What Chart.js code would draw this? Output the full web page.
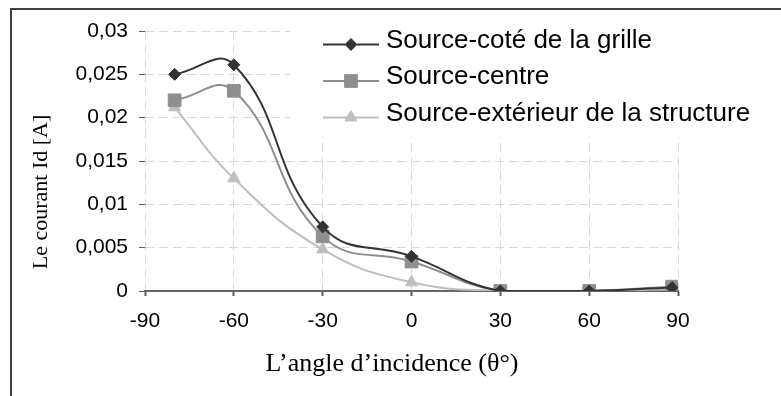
<!DOCTYPE html>
<html>
<head>
<meta charset="utf-8">
<script src="https://cdn.jsdelivr.net/npm/chart.js@4/dist/chart.umd.min.js"></script>
<style>
  html, body { margin: 0; padding: 0; background: #ffffff; }
  #c { display: block; }
</style>
</head>
<body>
<canvas id="c" width="781" height="396"></canvas>
<script>
// ---- data ----
const angles = [-80, -60, -30, 0, 30, 60, 88];
const seriesNames = ['Source-coté de la grille', 'Source-centre', 'Source-extérieur de la structure'];
const coteGrille = [0.0250, 0.0261, 0.0074, 0.0040, 0.0000, 0.0000, 0.0004];
const centre     = [0.0220, 0.0231, 0.0063, 0.0034, 0.0000, 0.0000, 0.0005];
const exterieur  = [0.0212, 0.0130, 0.0048, 0.0010, 0.0000, 0.0000, 0.0002];
const xTickValues = [-90, -60, -30, 0, 30, 60, 90];
const xTickLabels = ['-90', '-60', '-30', '0', '30', '60', '90'];
const yTickValues = [0, 0.005, 0.01, 0.015, 0.02, 0.025, 0.03];
const yTickLabels = ['0', '0,005', '0,01', '0,015', '0,02', '0,025', '0,03'];
const xTitle = 'L\u2019angle d\u2019incidence (\u03B8°)';
const yTitle = 'Le courant Id [A]';

// ---- styles ----
const colors = ['#333333', '#8f8f8f', '#bfbfbf'];
const pointStyles = ['rectRot', 'rect', 'triangle'];
const pointRadii = [6, 9, 7];
const seriesValues = [coteGrille, centre, exterieur];

function toPoints(vals) { return angles.map((a, i) => ({ x: a, y: vals[i] })); }

function makeSwatch(color, style, radius) {
  const c = document.createElement('canvas');
  c.width = 56; c.height = 28;
  const g = c.getContext('2d');
  const cy = 18;
  g.strokeStyle = color; g.lineWidth = 2;
  g.beginPath(); g.moveTo(0, cy); g.lineTo(56, cy); g.stroke();
  g.fillStyle = color; g.strokeStyle = color; g.lineWidth = 1;
  Chart.helpers.drawPoint(g, { pointStyle: style, radius: radius, borderWidth: 1, rotation: 0 }, 28, cy);
  return c;
}
const swatches = colors.map((c, i) => makeSwatch(c, pointStyles[i], pointRadii[i]));

const frameAndTitles = {
  id: 'frameAndTitles',
  beforeDraw(chart) {
    const ctx = chart.ctx;
    ctx.save();
    ctx.strokeStyle = '#404040';
    ctx.lineWidth = 2;
    ctx.beginPath();
    ctx.moveTo(11, 400); ctx.lineTo(11, 9); ctx.lineTo(790, 9);
    ctx.stroke();
    ctx.restore();
  },
  afterLayout(chart) {
    const lg = chart.legend;
    if (!lg) return;
    lg.left = 318.5; lg.right = 781; lg.top = 17; lg.bottom = 150;
    lg.width = lg.right - lg.left; lg.height = lg.bottom - lg.top;
    if (!lg._bgWrapped) {
      const proto = Object.getPrototypeOf(lg);
      lg.draw = function () {
        const ctx = this.ctx;
        ctx.save();
        ctx.fillStyle = '#ffffff';
        ctx.fillRect(290, 12, 491, 125);
        ctx.restore();
        return proto.draw.apply(this, arguments);
      };
      lg._bgWrapped = true;
    }
  },
  afterDraw(chart) {
    const ctx = chart.ctx;
    ctx.save();
    ctx.fillStyle = '#000000';
    ctx.font = '26px "Liberation Serif"';
    ctx.textAlign = 'center';
    ctx.textBaseline = 'alphabetic';
    ctx.fillText(xTitle, 392, 371);
    ctx.translate(47, 192);
    ctx.rotate(-Math.PI / 2);
    ctx.font = '22px "Liberation Serif"';
    ctx.fillText(yTitle, 0, 0);
    ctx.restore();
  }
};

new Chart(document.getElementById('c'), {
  type: 'line',
  data: {
    datasets: seriesNames.map((name, i) => ({
      label: name,
      data: toPoints(seriesValues[i]),
      borderColor: colors[i],
      backgroundColor: colors[i],
      pointBackgroundColor: colors[i],
      pointBorderColor: colors[i],
      pointBorderWidth: 1,
      borderWidth: 2,
      pointStyle: pointStyles[i],
      pointRadius: pointRadii[i],
      tension: 0.45,
      fill: false
    }))
  },
  options: {
    responsive: false,
    animation: false,
    devicePixelRatio: 1,
    layout: { padding: { left: 0, top: 31, right: 103, bottom: 0 } },
    scales: {
      x: {
        type: 'linear',
        min: -90, max: 90,
        afterBuildTicks(scale) { scale.ticks = xTickValues.map(v => ({ value: v })); },
        afterFit(scale) { scale.height = 105; },
        ticks: {
          callback: (v, i) => xTickLabels[i],
          color: '#000000',
          font: { family: '"Liberation Sans"', size: 21 },
          padding: 13,
          maxRotation: 0,
          autoSkip: false
        },
        grid: { color: '#d9d9d9', lineWidth: 1, tickLength: 5, tickColor: '#595959', tickWidth: 2 },
        border: { display: true, color: '#666666', width: 2, dash: [9, 5] }
      },
      y: {
        type: 'linear',
        min: 0, max: 0.03,
        afterBuildTicks(scale) { scale.ticks = yTickValues.map(v => ({ value: v })); },
        afterFit(scale) { scale.width = 145; },
        ticks: {
          callback: (v, i) => yTickLabels[i],
          color: '#000000',
          font: { family: '"Liberation Sans"', size: 21 },
          padding: 11
        },
        grid: { color: '#d9d9d9', lineWidth: 1, tickLength: 6, tickColor: '#595959', tickWidth: 1 },
        border: { display: false, dash: [9, 5] }
      }
    },
    plugins: {
      tooltip: { enabled: false },
      legend: {
        position: 'chartArea',
        align: 'start',
        labels: {
          usePointStyle: true,
          pointStyleWidth: 44,
          padding: 10.5,
          color: '#000000',
          font: { family: '"Liberation Sans"', size: 26 },
          generateLabels(chart) {
            const items = Chart.defaults.plugins.legend.labels.generateLabels(chart);
            items.forEach((it, i) => { it.pointStyle = swatches[i]; });
            return items;
          }
        }
      }
    }
  },
  plugins: [frameAndTitles]
});
</script>
</body>
</html>
